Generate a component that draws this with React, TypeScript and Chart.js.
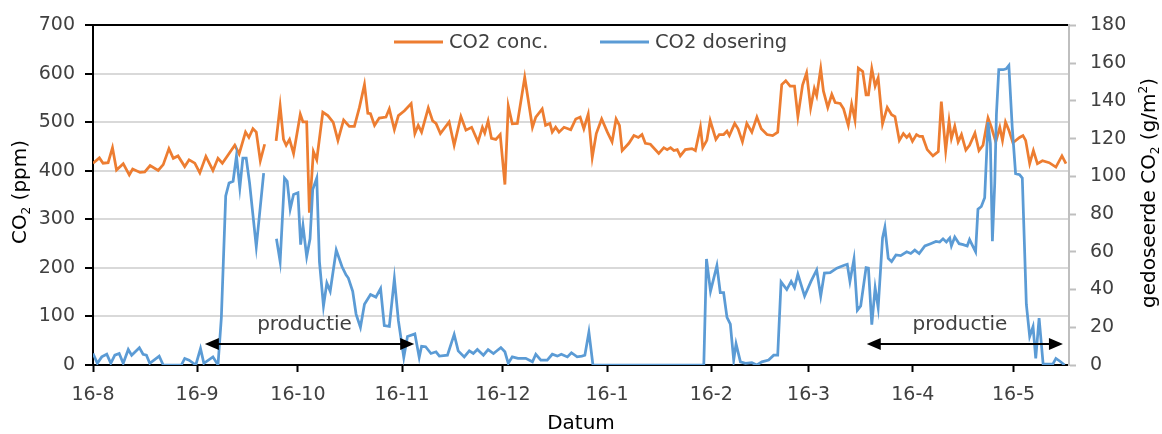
import { useEffect, useRef } from 'react';
import { Chart, registerables } from 'chart.js';

Chart.register(...registerables);

// Days counted from 16 Aug; axis ticks fall on the 16th of each month
const tickDays = [0, 31, 61, 92, 122, 153, 184, 213, 244, 274];
const tickLabels = ['16-8', '16-9', '16-10', '16-11', '16-12', '16-1', '16-2', '16-3', '16-4', '16-5'];

// CO2 concentration (ppm), left axis
const concDay = [
  0, 1.9, 3, 4.5, 5.8, 7, 9, 10.8, 11.8, 14, 15.4, 17, 19.4, 20.9, 22.6, 23.9, 25.3, 27.3, 28.6, 30.3,
  31.8, 33.6, 35.7, 37.2, 38.5, 40.2, 42.2, 43.5, 45.4, 46.4, 47.6, 48.6, 49.8, 51.1, 52.8,
  54.5, 55.7, 56.7, 57.5, 58.5, 59.7, 61.7, 62.5, 63.6, 64.4, 65.6, 66.6, 68.4, 69.9, 71.5, 72.9,
  74.6, 76.3, 77.8, 79.3, 80.8, 81.8, 82.6, 83.8, 85.2, 87.2, 88.2, 89.7, 90.9, 92.7, 94.7, 95.8,
  96.8, 97.8, 99.8, 101.1, 102.1, 103.4, 106, 107.5, 109.5, 111, 112.7, 114.6, 115.9, 116.6, 117.6,
  118.6, 119.9, 121.2, 122.6, 123.6, 124.8, 126.3, 128.5, 130.8, 131.8, 133.7, 134.7, 136, 136.7,
  137.7, 138.7, 140.2, 142.2, 143.7, 145, 146.1, 147.4, 148.6, 149.8, 151.4, 153.1, 154.5, 155.7,
  156.7, 157.5, 159.5, 161, 162.3, 163.4, 164.4, 165.9, 168.4, 169.9, 170.9, 171.9, 172.9, 173.9,
  174.8, 176.3, 178.3, 179.3, 180.8, 181.5, 182.7, 183.7, 185.4, 186.4, 187.7, 188.7, 189.4, 191,
  192, 193.3, 194.6, 196.1, 197.6, 198.9, 200.6, 202.3, 203.8, 205, 206.2, 207.5, 208.8, 209.8,
  211.2, 212.4, 213.6, 214.7, 215.4, 216.6, 217.4, 218.7, 219.9, 220.9, 222.4, 223.4, 224.8, 225.8,
  226.8, 227.8, 229.1, 230.1, 230.8, 231.8, 232.8, 233.7, 235, 236.4, 237.7, 238.7, 240, 241.2,
  242.2, 243, 243.9, 245.1, 246, 246.9, 248.3, 250, 251.6, 252.5, 253.8, 254.8, 255.5, 256.5, 257.5,
  258.5, 259.8, 260.9, 262.5, 263.7, 264.9, 266.4, 267.4, 268.7, 269.9, 270.7, 271.6, 272.6, 273.8,
  275.8, 276.8, 277.6, 278.8, 279.9, 281.1, 282.6, 284.6, 286.6, 288.4, 289.6,
];
const concPpm = [
  416, 427, 416, 417, 448, 402, 415, 392, 404, 397, 398, 411, 401, 413, 446, 426, 431, 409, 423, 416,
  396, 430, 401, 426, 416, 433, 453, 435, 480, 469, 487, 480, 421, 455, null,
  462, 534, 465, 453, 465, 436, 517, 501, 501, 314, 440, 423, 521, 514, 500, 463,
  505, 492, 492, 531, 578, 519, 518, 494, 509, 511, 528, 485, 514, 524, 539, 477,
  494, 480, 530, 503, 498, 477, 501, 453, 512, 484, 490, 460, 490, 478, 503,
  467, 465, 475, 372, 534, 497, 498, 593, 490, 511, 528, 494, 498, 480,
  490, 480, 490, 485, 507, 511, 487, 517, 428, 477, 507, 480, 460, 507,
  494, 442, 457, 473, 469, 475, 457, 455, 436, 448, 444, 448, 442, 444,
  431, 444, 446, 442, 490, 448, 463, 504, 465, 475, 475, 482, 473, 498,
  487, 460, 498, 480, 511, 487, 475, 473, 480, 578, 586, 575, 575, 512,
  577, 602, 530, 570, 555, 611, 565, 531, 558, 541, 539, 528, 494, 538,
  505, 612, 605, 557, 557, 611, 575, 592, 497, 531, 516, 512, 463, 477,
  469, 475, 461, 475, 471, 471, 444, 431, 440, 543, 442, 503, 467, 492, 460,
  475, 443, 453, 478, 442, 453, 509, 490, 460, 490, 463, 501, 484, 458,
  469, 473, 463, 415, 442, 415, 421, 417, 408, 431, 415,
];

// CO2 dosed (g/m2), right axis
const doseDay = [
  0, 1.3, 2.6, 4.1, 5.3, 6.5, 7.8, 9, 10.5, 11.5, 13.8, 14.9, 15.9, 16.9, 19.7, 20.9, 26.3, 27.3,
  28.6, 30.6, 32, 33, 35.7, 37.2, 38.2, 39.5, 40.5, 41.7, 42.7, 43.7, 44.6, 45.6, 46.6, 48.6, 50.8,
  52.8, 54.6, 55.7, 57, 57.8, 58.7, 59.7, 61, 61.8, 62.5, 63.6, 64.6, 65.4, 66.6, 67.4, 68.6, 69.6,
  70.6, 72.4, 74.1, 75.3, 76, 77.3, 78.3, 79.6, 80.8, 82.6, 84.2, 85.6, 86.7, 88.2, 89.7, 90.9,
  92.5, 93.6, 95.8, 97.1, 97.8, 99, 100.6, 102.1, 103.1, 105.5, 107.5, 108.7, 110.5, 112, 113.2,
  114.4, 116.2, 117.6, 119.2, 120.4, 121.4, 122.6, 123.6, 124.8, 126.5, 128.8, 130.8, 131.8, 133.3,
  135.2, 136.7, 138.2, 139.4, 141.2, 142.4, 144.1, 145.5, 146.4, 147.6, 148.8, 181.8, 182.6, 183.8,
  185.7, 186.7, 187.7, 188.7, 189.7, 190.7, 191.4, 192.7, 194.2, 196.1, 197.6, 199.1, 201.1, 202.6,
  203.8, 204.8, 206.5, 207.8, 208.8, 209.8, 211.8, 213.7, 215.4, 216.6, 217.7, 219.4, 221.4, 223.4,
  224.5, 225.3, 226.5, 227.5, 228.5, 230.1, 230.8, 231.8, 232.8, 233.7, 235, 235.7, 236.7, 237.7,
  239, 240.4, 242.2, 243.4, 244.6, 245.9, 247.6, 249.3, 250.9, 252, 253, 254, 255, 255.5, 256.5,
  257.8, 259, 260.2, 260.9, 262.7, 263.4, 264.4, 265.4, 266.4, 267.1, 267.7, 268.4, 268.9, 269.6,
  270.9, 271.8, 272.6, 273.6, 274.6, 275.8, 276.6, 277.8, 278.8, 279.8, 280.6, 281.6, 282.8, 285.7,
  286.6, 287.8, 289.2,
];
const doseGm2 = [
  6.1, 0.9, 4.3, 5.7, 0.9, 5.2, 6.1, 0.9, 8.2, 5.2, 9.2, 5.7, 5.2, 0.9, 4.7, 0, 0, 3.5,
  2.6, 0, 8.7, 0.9, 4.3, 0, 25, 89.6, 96.5, 97.4, 110.8, 93.9, 109.6, 109.6, 96.5, 62.6, 101.7,
  null, 66.9, 54.8, 99.1, 97.4, 82.6, 90.4, 91.3, 63.8, 73.9, 57.4, 66.9, 93, 99.1, 54.8, 31.3, 43.5,
  39.1, 60.9, 52.2, 47.8, 46.1, 39.1, 27, 20, 32.2, 37.4, 36, 40.5, 20.9, 20.5, 45.7, 23.5,
  4, 15.1, 16.5, 4, 9.9, 9.7, 6.1, 7, 4.7, 5.2, 16.2, 7.5, 4.3, 7.5, 6.1,
  8.2, 5.2, 8.2, 6.1, 7.8, 9.2, 7, 0.9, 4.3, 3.5, 3.5, 1.7, 5.7, 2.6,
  2.6, 5.7, 4.7, 5.7, 4.3, 6.5, 4.3, 4.7, 5.2, 17.4, 0, 0, 56.2, 39.1,
  52.7, 38.3, 38.3, 25.2, 21.7, 2.6, 11.3, 1.7, 0.9, 1.2, 0, 1.7, 2.6, 5.2,
  5.2, 44, 40, 44.3, 41, 48.2, 36.5, 44.3, 50.4, 36.5, 48.7, 48.9, 51.3, 52.7,
  53.4, 44.3, 56.2, 29, 31.3, 51.6, 51.3, 21.4, 40.9, 30.4, 67.3, 73, 56.5, 54.8,
  58.3, 58, 60, 59.1, 60.9, 59.1, 63.1, 64.3, 65.5, 65.2, 66.9, 65.2, 67.3, 63.1, 67.8,
  64.3, 63.8, 63.1, 66.5, 60, 82.6, 84, 88.7, 128.7, 117.4, 65.6, 96.5, 133, 156.5,
  156.5, 157, 158.8, 126.1, 101.4, 100.9, 99.1, 32.2, 15.1, 20.3, 3.5, 24.9, 0.5, 0.5,
  3.5, 2, 0,
];

// Production periods (start day, end day) marked with double arrows
const productionStart = [33.3, 230.3];
const productionEnd = [95.6, 288.7];
const productionLabel = 'productie';
const arrowLevelPpm = 44;

const seriesNames = ['CO2 conc.', 'CO2 dosering'];
const seriesColors = ['#ED7D31', '#5B9BD5'];

// Axis titles as text runs; "sub" / "sup" runs are drawn smaller and shifted
type Run = { t: string; sub?: boolean; sup?: boolean };
const leftTitle: Run[] = [{ t: 'CO' }, { t: '2', sub: true }, { t: ' (ppm)' }];
const rightTitle: Run[] = [{ t: 'gedoseerde CO' }, { t: '2', sub: true }, { t: ' (g/m' }, { t: '2', sup: true }, { t: ')' }];

const FONT = '"DejaVu Sans", Verdana, sans-serif';
const TEXT = '#404040';

const toPoints = (xs: number[], ys: (number | null)[]) => xs.map((x, i) => ({ x, y: ys[i] }));

function drawRuns(ctx: CanvasRenderingContext2D, runs: Run[], cx: number, cy: number, size: number) {
  const small = Math.round(size * 0.62);
  const widths = runs.map((r) => {
    ctx.font = `${r.sub || r.sup ? small : size}px ${FONT}`;
    return ctx.measureText(r.t).width;
  });
  const total = widths.reduce((a, b) => a + b, 0);
  let x = cx - total / 2;
  ctx.textAlign = 'left';
  ctx.textBaseline = 'alphabetic';
  const base = cy + size * 0.36;
  runs.forEach((r, i) => {
    ctx.font = `${r.sub || r.sup ? small : size}px ${FONT}`;
    const dy = r.sub ? size * 0.2 : r.sup ? -size * 0.42 : 0;
    ctx.fillText(r.t, x, base + dy);
    x += widths[i];
  });
}

const decorations = {
  id: 'decorations',
  afterDatasetsDraw(chart: any) {
    const { ctx, scales } = chart;
    const xs = scales.x;
    const ys = scales.y;
    ctx.save();
    ctx.strokeStyle = '#000';
    ctx.fillStyle = '#000';
    ctx.lineWidth = 2;
    productionStart.forEach((d0, i) => {
      const x0 = xs.getPixelForValue(d0);
      const x1 = xs.getPixelForValue(productionEnd[i]);
      const yy = Math.round(ys.getPixelForValue(arrowLevelPpm));
      ctx.beginPath();
      ctx.moveTo(x0 + 10, yy);
      ctx.lineTo(x1 - 10, yy);
      ctx.stroke();
      ctx.beginPath();
      ctx.moveTo(x0, yy);
      ctx.lineTo(x0 + 14, yy - 6);
      ctx.lineTo(x0 + 14, yy + 6);
      ctx.closePath();
      ctx.fill();
      ctx.beginPath();
      ctx.moveTo(x1, yy);
      ctx.lineTo(x1 - 14, yy - 6);
      ctx.lineTo(x1 - 14, yy + 6);
      ctx.closePath();
      ctx.fill();
      ctx.font = `20px ${FONT}`;
      ctx.fillStyle = TEXT;
      ctx.textAlign = 'center';
      ctx.textBaseline = 'middle';
      ctx.fillText(productionLabel, (x0 + x1) / 2 - 5, yy - 19);
      ctx.fillStyle = '#000';
    });
    ctx.restore();
  },
  afterDraw(chart: any) {
    const { ctx, chartArea } = chart;
    ctx.save();
    // legend inside the plot area
    const legendY = 42;
    const legendX = [394, 600];
    ctx.lineWidth = 3;
    ctx.font = `19.5px ${FONT}`;
    ctx.textAlign = 'left';
    ctx.textBaseline = 'middle';
    seriesNames.forEach((name, i) => {
      ctx.strokeStyle = seriesColors[i];
      ctx.beginPath();
      ctx.moveTo(legendX[i], legendY);
      ctx.lineTo(legendX[i] + 49, legendY);
      ctx.stroke();
      ctx.fillStyle = TEXT;
      ctx.fillText(name, legendX[i] + 55, legendY + 1);
    });
    // axis titles
    ctx.fillStyle = '#000';
    ctx.font = `20px ${FONT}`;
    ctx.textAlign = 'center';
    ctx.textBaseline = 'middle';
    ctx.fillText('Datum', (chartArea.left + chartArea.right) / 2, 424);
    ctx.save();
    ctx.translate(19, 192);
    ctx.rotate(-Math.PI / 2);
    drawRuns(ctx, leftTitle, 0, 0, 20);
    ctx.restore();
    ctx.save();
    ctx.translate(1148, 193);
    ctx.rotate(-Math.PI / 2);
    drawRuns(ctx, rightTitle, 0, 0, 20);
    ctx.restore();
    ctx.restore();
  },
};

export default function App() {
  const canvasRef = useRef<HTMLCanvasElement | null>(null);

  useEffect(() => {
    const canvas = canvasRef.current;
    if (!canvas) return;
    const chart = new Chart(canvas, {
      type: 'line',
      data: {
        datasets: [
          {
            label: seriesNames[0],
            data: toPoints(concDay, concPpm),
            borderColor: seriesColors[0],
            backgroundColor: seriesColors[0],
            borderWidth: 2.75,
            pointRadius: 0,
            tension: 0,
            spanGaps: false,
            yAxisID: 'y',
            order: 1,
          },
          {
            label: seriesNames[1],
            data: toPoints(doseDay, doseGm2),
            borderColor: seriesColors[1],
            backgroundColor: seriesColors[1],
            borderWidth: 2.75,
            pointRadius: 0,
            tension: 0,
            spanGaps: false,
            yAxisID: 'y1',
            order: 0,
          },
        ],
      },
      options: {
        animation: false,
        responsive: false,
        maintainAspectRatio: false,
        devicePixelRatio: 1,
        layout: { padding: { top: 20, left: 0, right: 0, bottom: 0 } },
        plugins: {
          legend: { display: false },
          tooltip: { enabled: false },
        },
        scales: {
          x: {
            type: 'linear',
            min: 0,
            max: 290.5,
            afterBuildTicks: (s: any) => {
              s.ticks = tickDays.map((v) => ({ value: v }));
            },
            afterFit: (s: any) => {
              s.height = 69;
            },
            ticks: {
              autoSkip: false,
              maxRotation: 0,
              padding: 12,
              color: TEXT,
              font: { family: FONT, size: 19 },
              callback: (v: any) => {
                const i = tickDays.indexOf(Number(v));
                return i >= 0 ? tickLabels[i] : '';
              },
            },
            grid: {
              drawOnChartArea: false,
              drawTicks: true,
              tickLength: 7,
              tickColor: '#000',
              tickWidth: 2,
            },
            border: { color: '#000', width: 2 },
          },
          y: {
            position: 'left',
            min: 0,
            max: 700,
            afterFit: (s: any) => {
              s.width = 93;
            },
            ticks: {
              stepSize: 100,
              padding: 10,
              color: TEXT,
              font: { family: FONT, size: 19 },
            },
            grid: {
              color: (c: any) => (c.tick && c.tick.value === 700 ? '#000' : '#d9d9d9'),
              lineWidth: 2,
              drawTicks: true,
              tickLength: 8,
              tickColor: '#000',
              tickWidth: 2,
            },
            border: { color: '#000', width: 2 },
          },
          y1: {
            position: 'right',
            min: 0,
            max: 180,
            afterFit: (s: any) => {
              s.width = 93;
            },
            ticks: {
              stepSize: 20,
              padding: 14,
              color: TEXT,
              font: { family: FONT, size: 19 },
            },
            grid: {
              drawOnChartArea: false,
              drawTicks: true,
              tickLength: 7,
              tickColor: '#bfbfbf',
              tickWidth: 2,
            },
            border: { color: '#bfbfbf', width: 2 },
          },
        },
      },
      plugins: [decorations],
    });
    return () => chart.destroy();
  }, []);

  return (
    <div style={{ position: 'fixed', left: 0, top: 0, width: 1162, height: 434, background: '#fff' }}>
      <canvas ref={canvasRef} width={1162} height={434} style={{ display: 'block', width: 1162, height: 434 }} />
    </div>
  );
}
